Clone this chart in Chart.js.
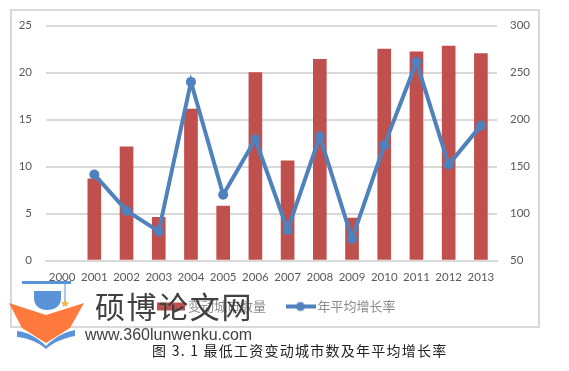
<!DOCTYPE html>
<html>
<head>
<meta charset="utf-8">
<script src="https://cdn.jsdelivr.net/npm/chart.js@4"></script>
<style>
  html, body { margin: 0; padding: 0; background: #fff; }
  #page { position: relative; width: 569px; height: 371px; overflow: hidden; }
  #frame { position: absolute; left: 10px; top: 9px; width: 526px; height: 315px; border: 2px solid #d9d9d9; box-sizing: content-box; }
  canvas { position: absolute; left: 0; top: 0; }
  #logo { position: absolute; left: 0; top: 270px; }
  .mark { position: absolute; white-space: pre; color: #404040; }
  #site { left: 95px; top: 287px; font: 30px/36px "Noto Sans CJK SC"; letter-spacing: 1.6px; }
  #url { left: 85px; top: 325px; font: 16px/20px "Liberation Sans"; }
  #caption { left: 152px; top: 341px; font: 14px/18px "Noto Sans CJK SC"; color: #222; letter-spacing: 1.25px; }
</style>
</head>
<body>
<div id="page">
  <div id="frame"></div>
  <canvas id="chart" width="569" height="371"></canvas>
  <svg id="logo" width="100" height="90" viewBox="0 270 100 90">
    <rect x="22" y="281" width="49" height="3" fill="#5b93d9"/>
    <path d="M34 291 H61 V298 C61 306 55 310 47 310 C40 310 34 306 34 298 Z" fill="#5b93d9"/>
    <rect x="64.5" y="283" width="1" height="18" fill="#5b93d9"/>
    <path d="M65 299 L66.4 302 L69 302.4 L67 304.4 L67.6 307 L65 305.6 L62.6 307 L63 304.4 L61 302.4 L63.8 302 Z" fill="#f6b44f"/>
    <path d="M9 303 L46 315 L84 303 L70 328 L46 343 L22 328 Z" fill="#ff7a3c"/>
    <path d="M17 331 C28 332 38 338 46 346 C54 338 64 332 75 330 V336 C64 338 54 342 46 349 C38 342 28 338 17 337 Z" fill="#5b93d9"/>
  </svg>
  <div class="mark" id="site">硕博论文网</div>
  <div class="mark" id="url">www.360lunwenku.com</div>
  <div class="mark" id="caption">图 3. 1 最低工资变动城市数及年平均增长率</div>
</div>
<script>
const years = ["2000", "2001", "2002", "2003", "2004", "2005", "2006", "2007", "2008", "2009", "2010", "2011", "2012", "2013"]
const cityCounts = [null, 8.7, 12.1, 4.6, 16.1, 5.8, 20, 10.6, 21.4, 4.5, 22.5, 22.2, 22.8, 22]
const growthRates = [null, 141.5, 103, 81, 240, 120, 179, 82.5, 182, 73, 172.5, 261, 152, 193.5]
const leftTicks = [0, 5, 10, 15, 20, 25]
const rightTicks = [50, 100, 150, 200, 250, 300]

const RED = "#c0504d"
const BLUE = "#4f81bd"
const GRID = "#d9d9d9"
const TICK_FONT = { family: "Lato", size: 11.5 }

const swatch = (draw) => {
  const c = document.createElement("canvas")
  c.width = 30
  c.height = 12
  draw(c.getContext("2d"))
  return c
}

const barSwatch = swatch((ctx) => {
  ctx.fillStyle = RED
  ctx.fillRect(1, 2, 28, 8)
})

const lineSwatch = swatch((ctx) => {
  ctx.strokeStyle = BLUE
  ctx.lineWidth = 4
  ctx.beginPath()
  ctx.moveTo(0, 6)
  ctx.lineTo(30, 6)
  ctx.stroke()
  ctx.fillStyle = BLUE
  ctx.beginPath()
  ctx.arc(15, 6, 4.5, 0, Math.PI * 2)
  ctx.fill()
})

new Chart(document.getElementById("chart"), {
  data: {
    labels: years,
    datasets: [
      {
        type: "line",
        label: "年平均增长率",
        data: growthRates,
        yAxisID: "y1",
        order: 0,
        borderColor: BLUE,
        backgroundColor: BLUE,
        borderWidth: 4,
        tension: 0,
        pointRadius: 5,
        pointHoverRadius: 5,
        pointBorderWidth: 0,
        pointStyle: "circle",
      },
      {
        type: "bar",
        label: "变动城市数量",
        data: cityCounts,
        yAxisID: "y",
        order: 1,
        backgroundColor: RED,
        barThickness: 13,
      },
    ],
  },
  options: {
    animation: false,
    responsive: false,
    layout: { padding: { top: 25.5, bottom: 33.5 } },
    plugins: {
      tooltip: { enabled: false },
      legend: {
        position: "bottom",
        labels: {
          usePointStyle: true,
          pointStyleWidth: 21,
          boxHeight: 12,
          padding: 24,
          color: "#8c8c8c",
          font: { family: "'Noto Sans CJK SC'", size: 13 },
          generateLabels: () => [
            { text: "变动城市数量", pointStyle: barSwatch, fontColor: "#8c8c8c", strokeStyle: "transparent", lineWidth: 0, datasetIndex: 1 },
            { text: "年平均增长率", pointStyle: lineSwatch, fontColor: "#8c8c8c", strokeStyle: "transparent", lineWidth: 0, datasetIndex: 0 },
          ],
        },
      },
    },
    scales: {
      x: {
        offset: true,
        afterFit: (axis) => { axis.height = 30 },
        grid: { display: false, drawTicks: false },
        border: { color: GRID, width: 2 },
        ticks: { color: "#595959", font: TICK_FONT, padding: 10, maxRotation: 0, autoSkip: false },
      },
      y: {
        position: "left",
        min: 0,
        max: 25,
        afterFit: (axis) => { axis.width = 46 },
        afterBuildTicks: (axis) => { axis.ticks = leftTicks.map((value) => ({ value })) },
        grid: { color: GRID, lineWidth: 2, drawTicks: false },
        border: { display: false },
        ticks: { color: "#595959", font: TICK_FONT, padding: 14 },
      },
      y1: {
        position: "right",
        min: 50,
        max: 300,
        afterFit: (axis) => { axis.width = 72 },
        afterBuildTicks: (axis) => { axis.ticks = rightTicks.map((value) => ({ value })) },
        grid: { display: false, drawTicks: false },
        border: { display: false },
        ticks: { color: "#595959", font: TICK_FONT, padding: 13 },
      },
    },
  },
  plugins: [
    {
      id: "legendShift",
      afterLayout(chart) {
        // legend sits a bit left of centre and tight under the axis in the original
        const legend = chart.legend
        legend.left -= 6.5
        legend.right -= 6.5
        legend.top -= 14.5
        legend.bottom -= 14.5
      },
    },
  ],
})
</script>
</body>
</html>
